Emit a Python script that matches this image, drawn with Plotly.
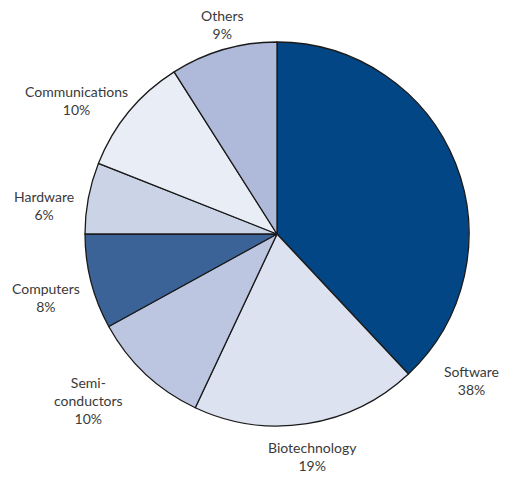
import plotly.graph_objects as go

labels = ["Software", "Biotechnology", "Semi-<br>conductors", "Computers", "Hardware", "Communications", "Others"]
values = [38, 19, 10, 8, 6, 10, 9]
colors = ["#024685", "#DCE2F0", "#BDC6E0", "#3B6398", "#CBD4E7", "#E9EEF6", "#AFBADA"]

# label block centres in pixels (x from left, y from top) of a 506x479 canvas
label_pos = [(471, 380), (312, 456), (88, 400), (46, 297), (44, 205), (76, 100), (222, 24)]

W, H = 506, 479

fig = go.Figure(go.Pie(
    labels=labels,
    values=values,
    textinfo="none",
    sort=False,
    direction="clockwise",
    rotation=0,
    marker=dict(colors=colors, line=dict(color="#1a1a1a", width=1.3)),
    domain=dict(x=[85/W, 469/W], y=[53/H, 437/H]),
    showlegend=False,
    hoverinfo="label+percent",
))

for lab, val, (px, py) in zip(labels, values, label_pos):
    fig.add_annotation(
        x=px / W, y=1 - py / H, xref="paper", yref="paper",
        text=f"{lab}<br>{val}%", showarrow=False,
        xanchor="center", yanchor="middle", align="center",
        font=dict(family="Lato, Open Sans, sans-serif", size=14, color="#3a3a3a"),
    )

fig.update_layout(
    width=W, height=H,
    margin=dict(l=0, r=0, t=0, b=0),
    paper_bgcolor="white",
    plot_bgcolor="white",
    showlegend=False,
)

fig.write_html("out.html")
